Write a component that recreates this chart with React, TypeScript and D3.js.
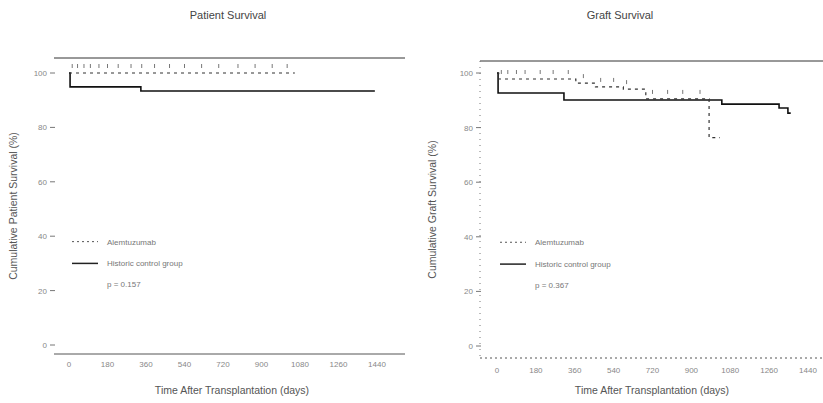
import React from 'react';
import * as d3 from 'd3';

// axis ticks
const xTicks = [0, 180, 360, 540, 720, 900, 1080, 1260, 1440];
const yTicks = [0, 20, 40, 60, 80, 100];

// Patient survival (Kaplan-Meier steps, days / %)
const patientAlemTime = [0, 1056];
const patientAlemSurv = [100, 100];
const patientAlemCensor = [15, 40, 70, 100, 140, 180, 230, 290, 340, 400, 470, 540, 620, 700, 790, 870, 950, 1020];
const patientHistTime = [0, 5, 336, 1430];
const patientHistSurv = [100, 94.9, 93.4, 93.4];

// Graft survival
const graftAlemTime = [0, 8, 365, 456, 585, 689, 982, 1032];
const graftAlemSurv = [100, 97.8, 96.3, 94.9, 94.1, 90.5, 76.3, 76.3];
const graftAlemCensor = [20, 50, 90, 130, 200, 260, 330, 400, 480, 540, 600, 720, 790, 860, 940];
const graftHistTime = [0, 5, 310, 1041, 1306, 1347, 1360];
const graftHistSurv = [100, 92.7, 90.1, 88.6, 87.2, 85.3, 85.3];

const legendLabels = ['Alemtuzumab', 'Historic control group'];

type Panel = {
  title: string;
  yTitle: string;
  pText: string;
  alem: [number[], number[]];
  hist: [number[], number[]];
  censor: number[];
  xRange: [number, number];
  yRange: [number, number];
  frameX: [number, number];
  topY: number;
  axisY: number;
  titleX: number;
  xTitleX: number;
  yTitleX: number;
  labelY: number;
  yAxisDotted: boolean;
};

const panels: Panel[] = [
  {
    title: 'Patient Survival',
    yTitle: 'Cumulative Patient Survival (%)',
    pText: 'p = 0.157',
    alem: [patientAlemTime, patientAlemSurv],
    hist: [patientHistTime, patientHistSurv],
    censor: patientAlemCensor,
    xRange: [69, 377],
    yRange: [345, 73],
    frameX: [54, 405],
    topY: 58,
    axisY: 354,
    titleX: 228,
    xTitleX: 232,
    yTitleX: 17,
    labelY: 367,
    yAxisDotted: false,
  },
  {
    title: 'Graft Survival',
    yTitle: 'Cumulative Graft Survival (%)',
    pText: 'p = 0.367',
    alem: [graftAlemTime, graftAlemSurv],
    hist: [graftHistTime, graftHistSurv],
    censor: graftAlemCensor,
    xRange: [497, 808],
    yRange: [346, 73],
    frameX: [480, 823],
    topY: 61,
    axisY: 358,
    titleX: 620,
    xTitleX: 652,
    yTitleX: 436,
    labelY: 373,
    yAxisDotted: true,
  },
];

const font = '"Liberation Sans", Arial, sans-serif';

const SurvPanel = ({ p }: { p: Panel }) => {
  const x = d3.scaleLinear().domain([0, 1440]).range(p.xRange);
  const y = d3.scaleLinear().domain([0, 100]).range(p.yRange);
  const line = d3
    .line<[number, number]>()
    .x((d) => x(d[0]))
    .y((d) => y(d[1]))
    .curve(d3.curveStepAfter);
  const alemPts = p.alem[0].map((t, i) => [t, p.alem[1][i]] as [number, number]);
  const histPts = p.hist[0].map((t, i) => [t, p.hist[1][i]] as [number, number]);
  const survAt = (t: number) => {
    let s = p.alem[1][0];
    p.alem[0].forEach((tt, i) => {
      if (tt <= t) s = p.alem[1][i];
    });
    return s;
  };
  const legX = x(0) + 3;
  const legTextX = legX + 35;
  const axisLeft = p.frameX[0];

  return (
    <g>
      <text x={p.titleX} y={19} textAnchor="middle" fontSize={11} fill="#444">
        {p.title}
      </text>
      <line x1={p.frameX[0]} x2={p.frameX[1]} y1={p.topY} y2={p.topY} stroke="#333" strokeWidth={1} />
      <line
        x1={p.frameX[0]}
        x2={p.frameX[1]}
        y1={p.axisY}
        y2={p.axisY}
        stroke="#555"
        strokeWidth={1}
        strokeDasharray={p.yAxisDotted ? '2,3' : undefined}
      />
      {p.yAxisDotted && (
        <line x1={axisLeft} x2={axisLeft} y1={p.topY} y2={p.axisY} stroke="#777" strokeDasharray="1,5" />
      )}
      {yTicks.map((t) => (
        <g key={t}>
          <line x1={axisLeft - 4} x2={axisLeft + 1} y1={y(t)} y2={y(t)} stroke="#777" />
          <text x={axisLeft - 7} y={y(t) + 3} textAnchor="end" fontSize={8} fill="#888">
            {t}
          </text>
        </g>
      ))}
      {xTicks.map((t) => (
        <text key={t} x={x(t)} y={p.labelY} textAnchor="middle" fontSize={8} fill="#888">
          {t}
        </text>
      ))}
      <text x={p.xTitleX} y={394} textAnchor="middle" fontSize={10.5} fill="#555">
        Time After Transplantation (days)
      </text>
      <text
        transform={`translate(${p.yTitleX},${(p.topY + p.axisY) / 2}) rotate(-90)`}
        textAnchor="middle"
        fontSize={10.5}
        fill="#555"
      >
        {p.yTitle}
      </text>
      <path d={line(histPts) ?? ''} fill="none" stroke="#111" strokeWidth={1.6} />
      <path d={line(alemPts) ?? ''} fill="none" stroke="#333" strokeWidth={1.2} strokeDasharray="3,4" />
      {p.censor.map((t, i) => (
        <line
          key={i}
          x1={x(t)}
          x2={x(t)}
          y1={y(survAt(t)) - 9}
          y2={y(survAt(t)) - 5}
          stroke="#777"
          strokeWidth={1}
        />
      ))}
      <line x1={legX} x2={legX + 26} y1={y(38)} y2={y(38)} stroke="#555" strokeDasharray="2,3" />
      <text x={legTextX} y={y(38) + 3} fontSize={8} fill="#777">
        {legendLabels[0]}
      </text>
      <line x1={legX} x2={legX + 26} y1={y(30)} y2={y(30)} stroke="#222" strokeWidth={1.5} />
      <text x={legTextX} y={y(30) + 3} fontSize={8} fill="#777">
        {legendLabels[1]}
      </text>
      <text x={legTextX} y={y(22.5) + 3} fontSize={8} fill="#777">
        {p.pText}
      </text>
    </g>
  );
};

const App = () => {
  return (
    <div style={{ position: 'absolute', left: 0, top: 0, background: '#fff' }}>
      <svg width={823} height={403} style={{ display: 'block', fontFamily: font }}>
        <rect width={823} height={403} fill="#fff" />
        {panels.map((p) => (
          <SurvPanel key={p.title} p={p} />
        ))}
      </svg>
    </div>
  );
};

export default App;
